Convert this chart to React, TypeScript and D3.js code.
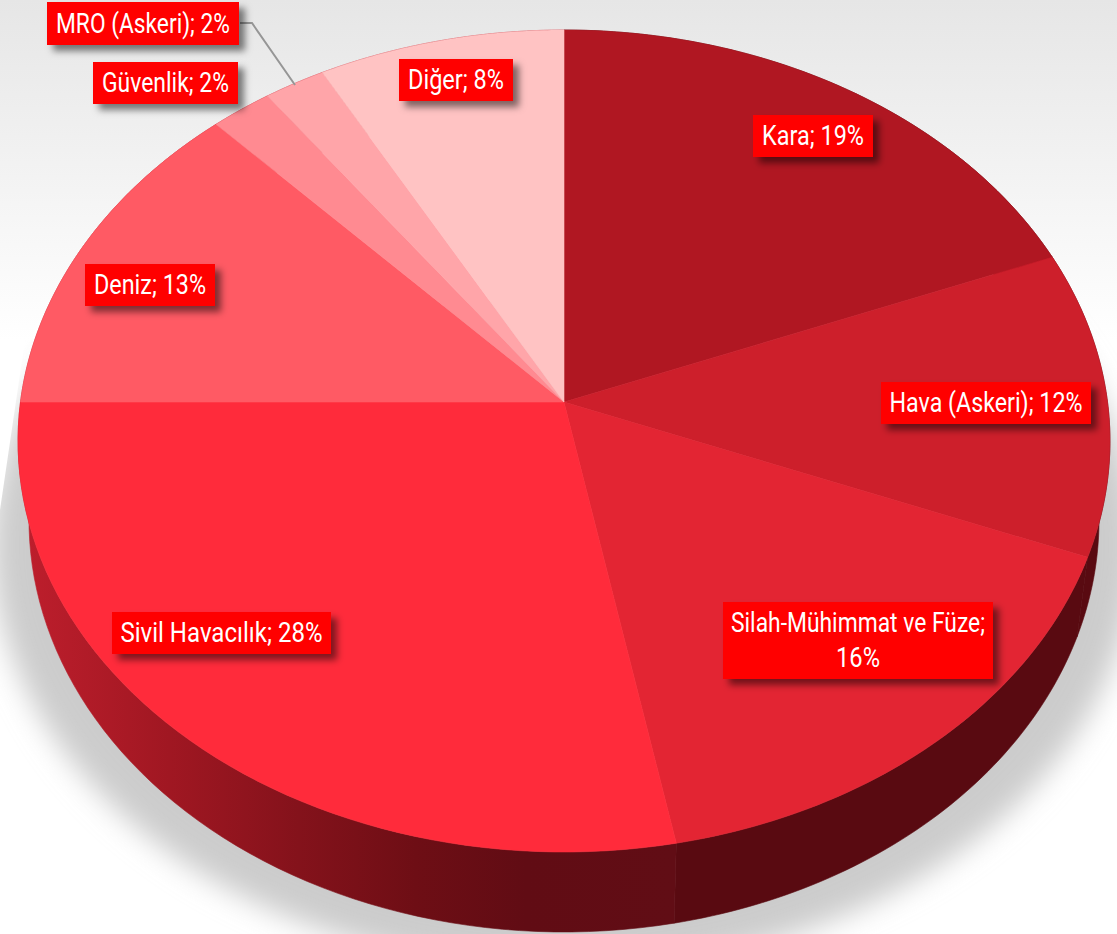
import React from "react";
import * as d3 from "d3";

const categories = ["Kara", "Hava (Askeri)", "Silah-Mühimmat ve Füze", "Sivil Havacılık", "Deniz", "Güvenlik", "MRO (Askeri)", "Diğer"];
const shares = [19, 12, 16, 28, 13, 2, 2, 8];
const topColors = ["#b01722", "#cd1f2b", "#e32533", "#ff2b3b", "#ff5a64", "#ff8a91", "#ffa5a9", "#ffc3c3"];
const sideColors = ["#590a11", "#590a11", "#590a11", "url(#sivilSide)", "#c0202e", "#c0202e", "#c0202e", "#c0202e"];

// label boxes [x0, y0, x1, y1]
const labelBoxes = [
  [753, 115, 873, 157],
  [881, 382, 1091, 424],
  [723, 602, 993, 679],
  [112, 612, 331, 654],
  [85, 264, 215, 306],
  [93, 62, 238, 104],
  [47, 2, 239, 45],
  [399, 59, 513, 101],
];
// text width per line
const labelWidths = [[102], [193], [254, 44], [202], [112], [127], [174], [96]];

const W = 1117;
const H = 934;
const persp = 0.0949;
const cx = 564;
const lineGap = 35;

// homography of the tilted disc: top face and the smaller bottom face
const faces = {
  top: { A: 543.5, a: -369.15, b: 402 },
  bottom: { A: 532.6, a: -362.65, b: 480.9 },
};

const project = (angle: number, r: number, face: { A: number; a: number; b: number }): [number, number] => {
  const X = Math.sin(angle) * r;
  const Y = Math.cos(angle) * r;
  const d = 1 + persp * Y;
  return [cx + (face.A * X) / d, (face.a * Y + face.b) / d];
};

const line = d3.line();
const arcPoints = (a0: number, a1: number, face: typeof faces.top) =>
  d3.range(0, 61).map((i) => project(a0 + ((a1 - a0) * i) / 60, 1, face));

const pie = d3.pie<number>().sort(null).value((d) => d);
const slices = pie(shares);

const App = () => {
  return (
    <svg width={W} height={H} style={{ position: "absolute", left: 0, top: 0 }}>
      <defs>
        <linearGradient id="bg" x1="0" y1="0" x2="0" y2="1">
          <stop offset="0" stopColor="#e6e6e6" />
          <stop offset="1" stopColor="#ffffff" />
        </linearGradient>
        <linearGradient id="sivilSide" gradientUnits="userSpaceOnUse" x1="27" y1="0" x2="674" y2="0">
          <stop offset="0" stopColor="#bd1e2c" />
          <stop offset="0.22" stopColor="#a01722" />
          <stop offset="0.42" stopColor="#84121b" />
          <stop offset="0.6" stopColor="#6e0e15" />
          <stop offset="0.77" stopColor="#610c14" />
          <stop offset="1" stopColor="#610d15" />
        </linearGradient>
        <filter id="blur" x="-10%" y="-10%" width="120%" height="120%">
          <feGaussianBlur stdDeviation="14" />
        </filter>
        <filter id="labelShadow" x="-10%" y="-20%" width="125%" height="160%">
          <feDropShadow dx="6" dy="6" stdDeviation="3.5" floodColor="#000" floodOpacity="0.5" />
        </filter>
        <clipPath id="shadowClip">
          <path d="M25,340L1117,250L1117,934L0,934L0,510Z" />
        </clipPath>
      </defs>

      <rect width={W} height={340} fill="url(#bg)" />

      <g clipPath="url(#shadowClip)">
        <ellipse cx={cx} cy={545} rx={572} ry={425} fill="#cccccc" filter="url(#blur)" />
      </g>

      {/* disc wall */}
      {slices.map((s, i) => (
        <path
          key={"side" + i}
          d={
            line([
              ...arcPoints(s.startAngle, s.endAngle, faces.top),
              ...arcPoints(s.startAngle, s.endAngle, faces.bottom).reverse(),
            ]) + "Z"
          }
          fill={sideColors[i]}
          stroke={sideColors[i]}
          strokeWidth={0.6}
        />
      ))}

      {/* disc top */}
      {slices.map((s, i) => (
        <path
          key={"top" + i}
          d={line([project(0, 0, faces.top), ...arcPoints(s.startAngle, s.endAngle, faces.top)]) + "Z"}
          fill={topColors[i]}
          stroke={topColors[i]}
          strokeWidth={0.6}
        />
      ))}

      {/* leader of MRO */}
      <path d="M240,23L252,23L295,85" fill="none" stroke="#969696" strokeWidth={2} />

      {categories.map((c, i) => {
        const [x0, y0, x1, y1] = labelBoxes[i];
        const label = `${c}; ${shares[i]}%`;
        const lines = labelWidths[i].length > 1 ? [`${c};`, `${shares[i]}%`] : [label];
        const midX = (x0 + x1) / 2;
        const midY = (y0 + y1) / 2;
        return (
          <g key={"label" + i}>
            <rect x={x0} y={y0} width={x1 - x0} height={y1 - y0} fill="#ff0000" filter="url(#labelShadow)" />
            {lines.map((t, j) => (
              <text
                key={j}
                x={midX}
                y={midY + (j - (lines.length - 1) / 2) * lineGap + 9}
                textAnchor="middle"
                fill="#ffffff"
                fontFamily="Roboto, sans-serif"
                fontSize={27}
                textLength={labelWidths[i][j]}
                lengthAdjust="spacingAndGlyphs"
              >
                {t}
              </text>
            ))}
          </g>
        );
      })}
    </svg>
  );
};

export default App;
